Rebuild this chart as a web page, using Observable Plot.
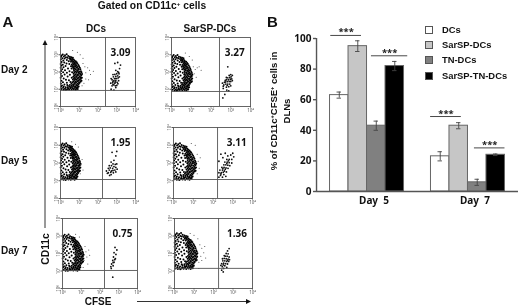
<!doctype html>
<html><head><meta charset="utf-8">
<script src="https://cdn.jsdelivr.net/npm/d3@7"></script>
<script src="https://cdn.jsdelivr.net/npm/@observablehq/plot@0.6"></script>
<style>
html,body{margin:0;padding:0;background:#fff}
#fig{position:relative;width:520px;height:307px;overflow:hidden;font-family:"Liberation Sans",Arial,sans-serif;color:#111;filter:blur(.3px)}
#fig>div,#fig>svg{position:absolute}
.t{font-weight:bold;white-space:nowrap;line-height:1;transform:translate(-50%,-50%)}
.l{font-weight:bold;white-space:nowrap;line-height:1;transform:translateY(-50%)}
.r{font-weight:bold;white-space:nowrap;line-height:1;transform:translate(-50%,-50%) rotate(-90deg)}
.sw{box-sizing:border-box;border:1px solid #555;width:8px;height:8px}
sup{font-size:.6em;line-height:0;vertical-align:.5em}
</style></head><body><div id="fig"></div>
<script>
// Panel B: bar chart
const days = ["Day 5", "Day 7"];
const series = ["DCs", "SarSP-DCs", "TN-DCs", "SarSP-TN-DCs"];
const seriesFill = ["#ffffff", "#c6c6c6", "#808080", "#000000"];
const day5Values = [63, 95, 43, 82];
const day5Errors = [2, 3.5, 3, 3];
const day7Values = [23, 43, 6, 24];
const day7Errors = [3, 2, 2, 0.5];
// significance brackets: day, from, to (in bar widths), level
const brackets = [["Day 5", 0.04, 1.7, 102], ["Day 5", 2.24, 4.2, 88.7], ["Day 7", -0.02, 1.64, 49], ["Day 7", 2.35, 4, 28.5]];

// Panel A: flow-cytometry panels, log10 units
const sampleNames = ["DCs", "SarSP-DCs"];
const percents = ["3.09", "3.27", "1.95", "3.11", "0.75", "1.36"];
// estimated shape of the CD11c+ CFSE- population, shared by the panels
const cloudEdge = [
[.12,3.02],[.24,2.97],[.33,3.03],[.41,2.93],[.5,2.89],[.58,2.86],[.06,2.95],[.18,2.9],[.29,2.86],[.37,2.83],[.47,2.8],[.55,2.79],[.63,2.76],[.7,2.72],[.66,2.83],
[.59,2.7],[.74,2.66],[.81,2.63],[.52,2.71],[.63,2.64],[.7,2.59],[.77,2.55],[.86,2.56],[.56,2.6],[.66,2.52],[.73,2.49],[.82,2.47],[.9,2.5],[.6,2.44],[.69,2.42],
[.77,2.4],[.85,2.38],[.95,2.41],[.64,2.35],[.72,2.31],[.8,2.33],[.9,2.29],[.99,2.33],[.67,2.26],[.76,2.22],[.85,2.24],[.94,2.2],[1.03,2.25],[.7,2.17],[.79,2.14],
[.88,2.12],[.97,2.13],[1.06,2.16],[.72,2.07],[.82,2.03],[.91,2.06],[1,2.02],[1.09,2.05],[.74,1.98],[.85,1.95],[.95,1.97],[1.04,1.93],[1.12,1.98],[.7,1.9],[.79,1.87],
[.89,1.86],[.98,1.89],[1.08,1.85],[1.15,1.88],[.73,1.79],[.83,1.77],[.93,1.8],[1.02,1.76],[1.11,1.79],[.68,1.72],[.77,1.69],[.87,1.71],[.97,1.67],[1.06,1.7],[1.14,1.67],
[.72,1.62],[.81,1.6],[.91,1.63],[1,1.58],[1.09,1.61],[.66,1.56],[.76,1.53],[.86,1.55],[.95,1.5],[1.04,1.53],[1.12,1.49],[.7,1.46],[.8,1.43],[.89,1.46],[.99,1.41],
[1.07,1.44],[.63,1.4],[.73,1.36],[.83,1.38],[.92,1.33],[1.01,1.36],[.58,1.32],[.67,1.28],[.77,1.3],[.86,1.25],[.96,1.27],[.5,1.25],[.6,1.21],[.7,1.23],[.8,1.18],
[.89,1.2],[.97,1.16],[.4,1.19],[.5,1.15],[.62,1.13],[.72,1.14],[.83,1.1],[.92,1.12],[.28,1.12],[.39,1.08],[.53,1.06],[.66,1.05],[.77,1.07],[.87,1.03],[.14,1.08],[.24,1.03],
[.35,1],[.46,.99],[.59,.98],[.71,1],[.81,.97],[.06,1.01],[.17,.97],[.29,.96],[.42,1.04],[.55,1.1],[.92,1.02],[.03,1.15]
];
const cloudCore = [
[.03,2.88],[.1,2.8],[.22,2.78],[.02,2.72],[.15,2.66],[.34,2.7],[.44,2.62],[.06,2.58],[.2,2.55],[.01,2.47],[.32,2.5],[.12,2.42],[.47,2.46],[.04,2.36],[.27,2.35],
[.56,2.34],[.16,2.27],[.01,2.24],[.4,2.21],[.09,2.16],[.59,2.2],[.24,2.1],[.03,2.06],[.48,2.05],[.14,1.98],[.34,1.96],[.62,1.99],[.02,1.9],[.22,1.85],[.5,1.84],
[.08,1.77],[.38,1.74],[.6,1.66],[.01,1.66],[.17,1.62],[.29,1.55],[.05,1.5],[.45,1.52],[.13,1.4],[.34,1.38],[.02,1.33],[.53,1.42],[.21,1.28],[.08,1.22],[.36,1.25],[.17,1.16]
];
// per panel: frame box, gates, cloud stretch and shift, CFSE+ cells and tail cells
const clusterA1 = [[2.7,1.0],[2.85,.95],[2.95,1.1],[2.75,1.2],[2.85,1.25],[3.0,1.22],[2.9,1.35],[2.78,1.38],[3.02,1.4],[2.85,1.5],[2.95,1.5],[3.1,1.5],[2.75,1.55],[2.88,1.62],[3.0,1.62],[3.08,1.66],[2.82,1.72],[2.95,1.74],[3.05,1.78],[2.9,1.86],[3.0,1.9],[3.12,1.9],[3.05,2.02],[2.95,2.1],[3.15,2.2],[2.9,2.5],[3.05,2.55],[3.2,2.4],[2.8,1.45],[2.92,1.42],[2.68,1.35],[2.7,1.62],[2.8,1.28],[2.93,1.2],[3.06,1.32],[3.14,1.72],[2.8,1.85],[2.92,1.62],[3.1,1.98]];
const tailA1 = [[1.2,2.5],[1.3,2.3],[1.45,2.25],[1.55,2.1],[1.75,2.05],[1.6,1.85],[1.35,1.95],[1.2,2.8],[.9,3.15],[.65,3.25],[1.35,1.6],[1.5,1.55],[1.25,1.35],[1.15,1.2],[1.05,3]];
const clusterA2 = [[2.7,.7],[2.8,.95],[2.9,.9],[2.62,1.05],[2.78,1.12],[2.9,1.15],[2.65,1.25],[2.75,1.3],[2.85,1.3],[2.95,1.3],[2.72,1.42],[2.82,1.44],[2.92,1.45],[3.0,1.45],[2.78,1.55],[2.88,1.55],[2.98,1.58],[3.05,1.6],[2.85,1.66],[2.95,1.68],[3.02,1.72],[2.92,1.8],[3.0,1.85],[3.08,1.8],[2.85,2.3],[2.6,.5],[2.58,1.35],[2.68,1.4],[2.62,1.18],[2.72,1.52],[2.82,1.22],[3,1.2],[3.08,1.5],[2.78,1.68]];
const tailA2 = [[1.1,2.3],[1.2,2.15],[1.3,2.25],[1.15,1.9],[1.25,1.7],[1.5,2.1],[1.4,2.3],[1.05,1.5],[.9,2.9],[.7,3.1],[1.05,2.7]];
const clusterB1 = [[2.45,1.55],[2.55,1.45],[2.6,1.6],[2.7,1.35],[2.72,1.55],[2.82,1.45],[2.65,1.72],[2.78,1.7],[2.9,1.6],[2.72,1.85],[2.85,1.8],[2.95,1.75],[2.8,1.95],[2.92,1.92],[2.7,2.05],[3,1.95],[2.85,2.15],[2.95,2.4],[3.0,2.65],[2.75,2.6],[2.55,1.7],[2.68,1.48],[2.5,1.42],[2.62,1.3],[2.8,1.58],[2.95,1.5],[3.02,1.65],[2.6,1.85]];
const tailB1 = [[1.15,2.2],[1.1,1.9],[1.2,1.6],[.95,2.9],[.8,3.05],[1.05,1.4],[.6,3.2]];
const clusterB2 = [[2.3,1.2],[2.38,1.3],[2.48,1.2],[2.3,1.45],[2.42,1.45],[2.55,1.35],[2.65,1.25],[2.35,1.6],[2.48,1.6],[2.58,1.55],[2.68,1.5],[2.45,1.75],[2.56,1.75],[2.66,1.72],[2.76,1.7],[2.55,1.9],[2.65,1.9],[2.75,1.88],[2.85,1.85],[2.6,2.05],[2.72,2.05],[2.82,2.02],[2.95,2.0],[2.7,2.2],[2.82,2.2],[2.95,2.2],[3.05,2.35],[2.75,2.4],[2.9,2.45],[2.5,2.3],[2.4,2.5],[2.62,2.55],[3.0,2.55],[2.3,2.1],[2.4,1.38],[2.52,1.48],[2.62,1.65],[2.5,1.68],[2.7,1.98],[2.78,2.12]];
const tailB2 = [[1.2,2.5],[1.25,2.1],[1.3,1.7],[1.1,3],[.9,3.1],[1.2,1.4],[1.35,2.3]];
const clusterC1 = [[2.58,1.25],[2.62,1.4],[2.7,1.3],[2.75,1.5],[2.68,1.6],[2.78,1.65],[2.82,1.7],[2.72,1.8],[2.85,1.95],[2.75,2.05],[2.9,2.2],[2.8,2.35],[2.68,.65],[2.6,1.15],[2.7,1.48]];
const tailC1 = [[1.2,2.4],[1.25,2.1],[1.3,1.8],[1.15,1.6],[1.35,1.4],[1.1,1.2],[1.4,2.2],[.9,2.95],[.7,3.1],[1.45,1.9]];
const clusterC2 = [[2.42,1.05],[2.52,1.15],[2.45,1.25],[2.58,1.3],[2.68,1.2],[2.42,1.42],[2.52,1.45],[2.62,1.42],[2.72,1.4],[2.48,1.58],[2.58,1.58],[2.68,1.55],[2.78,1.55],[2.55,1.72],[2.65,1.7],[2.75,1.68],[2.6,1.85],[2.7,1.85],[2.8,1.8],[2.65,2],[2.75,1.98],[2.72,2.15],[2.8,2.28],[2.5,.95],[2.38,1.32],[2.5,1.35],[2.46,1.7],[2.55,1.88],[2.72,1.62],[2.82,1.65]];
const tailC2 = [[1.3,2.5],[1.4,2.3],[1.5,2.05],[1.35,1.85],[1.25,1.5],[1.4,1.6],[1.2,2.85],[1,3.05],[.8,3.15],[1.55,2.4],[1.25,1.15],[1.6,1.75]];
const panels = [
 {pct:0,left:60,top:37,w:75,h:69,vg:2.4,hg:.93,sx:1,sy:0,cells:clusterA1,tail:tailA1},
 {pct:1,left:171,top:37,w:79,h:69,vg:2.43,hg:.87,sx:.92,sy:-.04,cells:clusterA2,tail:tailA2},
 {pct:2,left:60,top:127,w:75,h:71,vg:2.24,hg:1.07,sx:.93,sy:.08,cells:clusterB1,tail:tailB1},
 {pct:3,left:173,top:127,w:79,h:71,vg:2.23,hg:1.07,sx:1,sy:.08,cells:clusterB2,tail:tailB2},
 {pct:4,left:62,top:218,w:75,h:70,vg:2.24,hg:1.03,sx:.98,sy:.05,cells:clusterC1,tail:tailC1},
 {pct:5,left:174,top:218,w:78,h:70,vg:2.26,hg:1.15,sx:1.02,sy:.14,cells:clusterC2,tail:tailC2}
];
const sup = ["⁰","¹","²","³","⁴"];
const fig = document.getElementById("fig");

function place(el,x,y){el.style.left=x+"px";el.style.top=y+"px";fig.appendChild(el);return el;}
function label(html,x,y,size,cls="t"){const d=document.createElement("div");d.className=cls;d.innerHTML=html;d.style.fontSize=size+"px";return place(d,x,y);}

// flow panels
for (const p of panels) {
  const cloud = cloudEdge.concat(cloudCore).map(([x,y]) => [x*p.sx, y+p.sy]);
  const mL=10, mB=8, mT=3, mR=5;
  const c = Plot.plot({
    width:p.w+mL+mR, height:p.h+mT+mB, marginLeft:mL, marginRight:mR, marginTop:mT, marginBottom:mB,
    x:{domain:[0,4],axis:null}, y:{domain:[0,4],axis:null},
    style:{background:"transparent",overflow:"visible"},
    marks:[
      Plot.dot(cloud,{x:d=>d[0],y:d=>d[1],r:1,fill:"#000",stroke:"none"}),
      Plot.dot(p.tail,{x:d=>d[0],y:d=>d[1],r:.5,fill:"#333",stroke:"none"}),
      Plot.dot(p.cells,{x:d=>d[0],y:d=>d[1],r:.9,fill:"#111",stroke:"none"}),
      Plot.frame({stroke:"#555",strokeWidth:.9}),
      Plot.ruleX([p.vg],{stroke:"#555",strokeWidth:.9}),
      Plot.ruleY([p.hg],{stroke:"#555",strokeWidth:.9}),
      Plot.axisX({ticks:[0,1,2,3,4],tickFormat:d=>"10"+sup[d],tickSize:1.5,tickPadding:1,fontSize:4.5,fill:"#555",stroke:"#555",label:null}),
      Plot.axisY({ticks:[0,1,2,3,4],tickFormat:d=>"10"+sup[d],tickSize:1.5,tickPadding:1,fontSize:4.5,fill:"#555",stroke:"#555",label:null,textAnchor:"middle",tickRotate:-90}),
      Plot.text([percents[p.pct]],{x:()=>3.2,y:()=>3.13,text:d=>d,fontSize:10,fontWeight:"bold",fill:"#111"})
    ]
  });
  place(c,p.left-mL,p.top-mT);
}

// bars
const rows = days.flatMap((day,di) => series.map((s,i) => ({
  day, s, i,
  v:(di?day7Values:day5Values)[i],
  e:(di?day7Errors:day5Errors)[i]
})));
const bar = Plot.plot({
  width:250, height:205, marginLeft:46, marginRight:2, marginTop:30, marginBottom:22,
  x:{domain:[0,4],axis:null},
  y:{domain:[0,100],axis:null},
  fx:{domain:days,paddingInner:.267,paddingOuter:.134,round:false,axis:null},
  color:{domain:series,range:seriesFill},
  style:{background:"transparent",overflow:"visible"},
  marks:[
    Plot.rectY(rows,{fx:"day",x1:"i",x2:d=>d.i+1,y1:0,y2:"v",fill:"s",stroke:"#666",strokeWidth:1}),
    Plot.ruleX(rows,{fx:"day",x:d=>d.i+.5,y1:d=>d.v-d.e,y2:d=>d.v+d.e,stroke:"#444",strokeWidth:.9}),
    Plot.ruleY(rows,{fx:"day",y:d=>d.v-d.e,x1:d=>d.i+.38,x2:d=>d.i+.62,stroke:"#444",strokeWidth:.9}),
    Plot.ruleY(rows,{fx:"day",y:d=>d.v+d.e,x1:d=>d.i+.38,x2:d=>d.i+.62,stroke:"#444",strokeWidth:.9}),
    Plot.ruleY(brackets,{fx:d=>d[0],y:d=>d[3],x1:d=>d[1],x2:d=>d[2],stroke:"#333",strokeWidth:.9}),
    Plot.text(brackets,{fx:d=>d[0],y:d=>d[3],x:d=>(d[1]+d[2])/2,text:()=>"***",dy:0,fontSize:9.5,fontWeight:"bold",fill:"#222",lineAnchor:"bottom"}),
    Plot.ruleY([0],{x1:()=>-.73,x2:()=>4.73,stroke:"#555",strokeWidth:1.4}),
    Plot.ruleX([days[0]],{fx:d=>d,x:()=>-.73,y1:0,y2:100,stroke:"#555",strokeWidth:1.4}),
    Plot.axisY({ticks:[0,20,40,60,80,100],tickSize:3,tickPadding:2,dx:-13.5,fontSize:10,fontWeight:"bold",fill:"#111",stroke:"#555",strokeWidth:1.4,label:null,anchor:"left",facetAnchor:"left"}),
    Plot.axisFx({anchor:"bottom",tickSize:0,tickPadding:5,fontSize:10,fontWeight:"bold",fill:"#111",label:null,dx:7,tickFormat:d=>d.replace(" ","\u00a0\u00a0")})
  ]
});
place(bar,270,8);

// text
label("Gated on CD11c<sup>+</sup> cells",152,6,10.3);
label("A",8,21,15);
label("B",272.5,21,15);
label(sampleNames[0],96,29,10);
label(sampleNames[1],210,29,10);
label("Day 2",1,70,10,"l");
label("Day 5",1,161,10,"l");
label("Day 7",1,251,10,"l");
label("CD11c",45.5,249,10.3,"r");
label("CFSE",98,302,10);
label("% of CD11c<sup>+</sup>CFSE<sup>+</sup> cells in",274,111,9.5,"r");
label("DLNs",287,111,9.5,"r");

// legend
series.forEach((s,i)=>{
  const y=[29.5,44.7,60,75.7][i];
  const b=document.createElement("div");b.className="sw";b.style.background=seriesFill[i];place(b,425,y-4);
  label(s,442,y,9.4,"l");
});

// arrows
const ns="http://www.w3.org/2000/svg";
const svg=document.createElementNS(ns,"svg");
svg.setAttribute("width",520);svg.setAttribute("height",307);svg.style.left="0";svg.style.top="0";svg.style.pointerEvents="none";
svg.innerHTML='<path d="M45 44V228" stroke="#333" stroke-width="1"/><path d="M45 40l-2.5 5h5z" fill="#111"/>'+
 '<path d="M137 301.5H247" stroke="#333" stroke-width="1"/><path d="M251 301.5l-5-2.5v5z" fill="#111"/>';
fig.appendChild(svg);
</script></body></html>
